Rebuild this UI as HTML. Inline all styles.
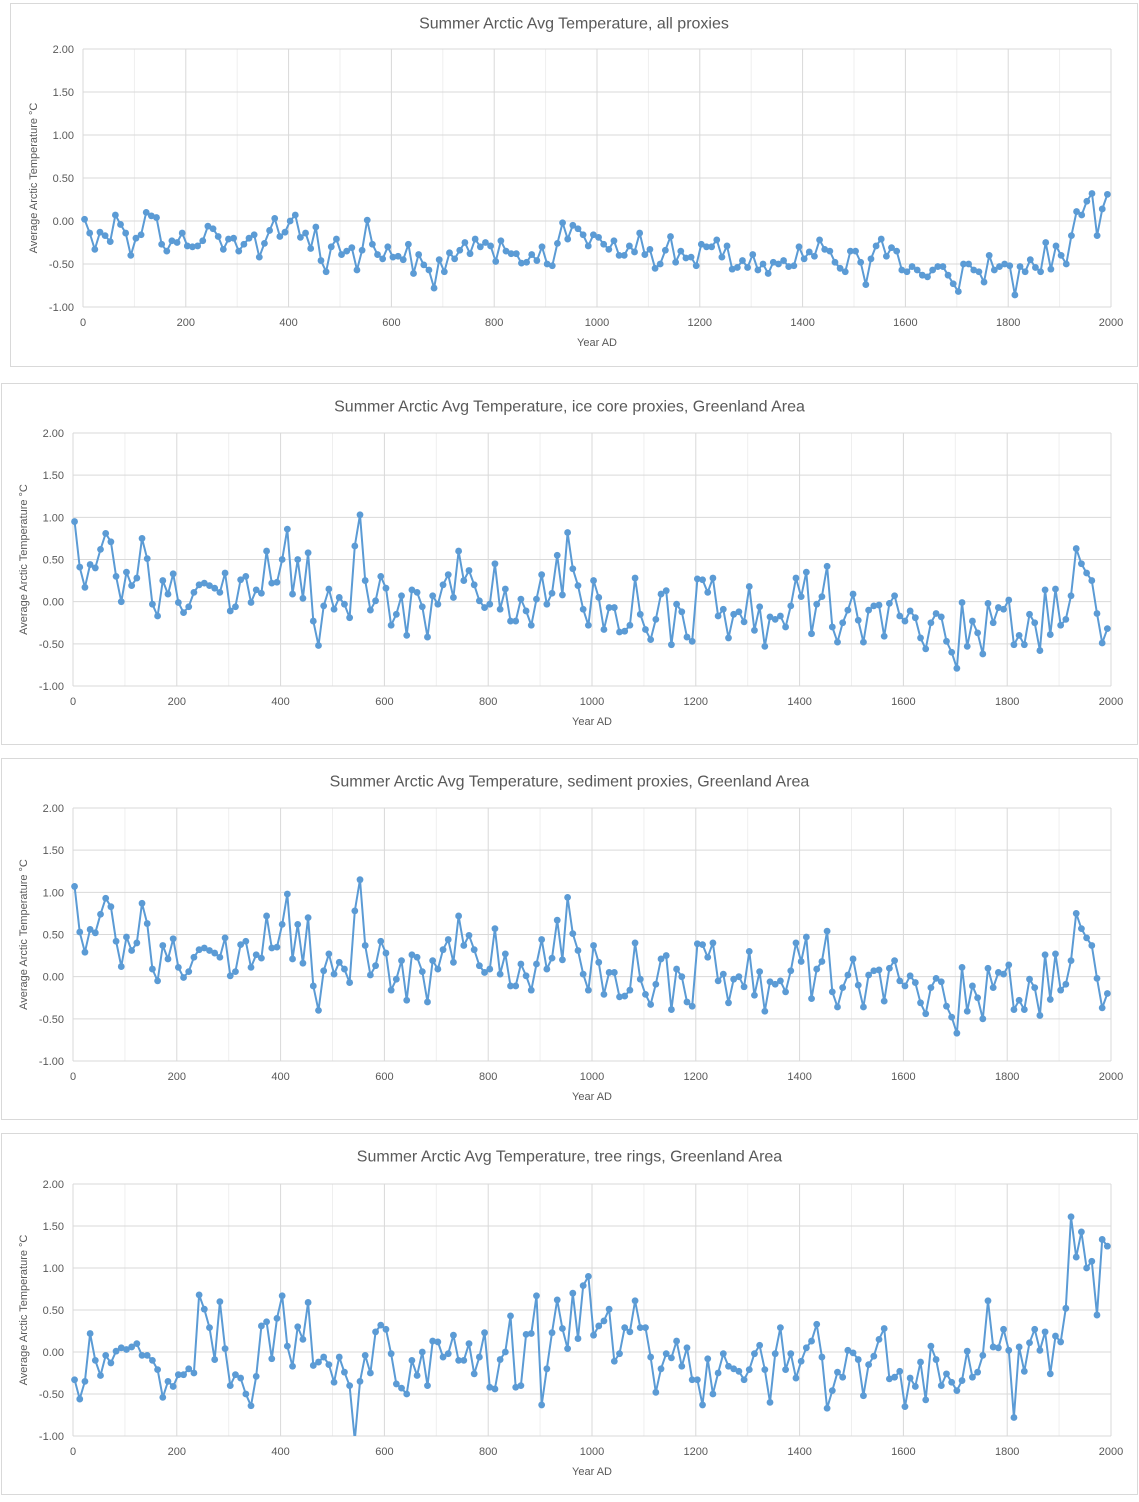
<!DOCTYPE html>
<html><head><meta charset="utf-8"><title>Summer Arctic Avg Temperature</title>
<style>
html,body{margin:0;padding:0;background:#fff;}
svg text{font-family:"Liberation Sans",Arial,sans-serif;fill:#595959;}
</style></head>
<body>
<svg id="root" xmlns="http://www.w3.org/2000/svg" width="1139" height="1497" viewBox="0 0 1139 1497"></svg>
<script>
const yTicks = [2.00, 1.50, 1.00, 0.50, 0.00, -0.50, -1.00];
const xTicks = [0, 200, 400, 600, 800, 1000, 1200, 1400, 1600, 1800, 2000];
const titles = [
  "Summer Arctic Avg Temperature, all proxies",
  "Summer Arctic Avg Temperature, ice core proxies, Greenland Area",
  "Summer Arctic Avg Temperature, sediment proxies, Greenland Area",
  "Summer Arctic Avg Temperature, tree rings, Greenland Area"
];
const allProxies = [0.02,-0.14,-0.33,-0.13,-0.17,-0.24,0.07,-0.04,-0.14,-0.40,-0.20,-0.16,0.10,0.06,0.04,-0.27,-0.35,-0.23,-0.25,-0.14,-0.29,-0.30,-0.29,-0.23,-0.06,-0.09,-0.18,-0.33,-0.21,-0.20,-0.35,-0.27,-0.20,-0.16,-0.42,-0.26,-0.11,0.03,-0.18,-0.13,0.0,0.07,-0.19,-0.14,-0.32,-0.07,-0.46,-0.59,-0.30,-0.21,-0.39,-0.35,-0.31,-0.57,-0.34,0.01,-0.27,-0.39,-0.44,-0.30,-0.42,-0.41,-0.45,-0.27,-0.61,-0.39,-0.51,-0.57,-0.78,-0.45,-0.59,-0.37,-0.44,-0.34,-0.25,-0.38,-0.21,-0.30,-0.25,-0.29,-0.47,-0.23,-0.35,-0.38,-0.38,-0.49,-0.48,-0.39,-0.46,-0.30,-0.50,-0.52,-0.26,-0.02,-0.21,-0.05,-0.09,-0.16,-0.29,-0.16,
-0.19,-0.27,-0.33,-0.23,-0.40,-0.40,-0.29,-0.36,-0.14,-0.39,-0.33,-0.55,-0.50,-0.34,-0.18,-0.48,-0.35,-0.43,-0.42,-0.52,-0.27,-0.30,-0.30,-0.22,-0.42,-0.29,-0.56,-0.54,-0.46,-0.54,-0.39,-0.57,-0.50,-0.61,-0.48,-0.50,-0.46,-0.53,-0.52,-0.30,-0.44,-0.36,-0.41,-0.22,-0.33,-0.35,-0.48,-0.55,-0.59,-0.35,-0.35,-0.48,-0.74,-0.44,-0.29,-0.21,-0.41,-0.31,-0.35,-0.57,-0.59,-0.53,-0.57,-0.63,-0.65,-0.57,-0.53,-0.53,-0.63,-0.73,-0.82,-0.50,-0.50,-0.57,-0.59,-0.71,-0.40,-0.57,-0.53,-0.50,-0.52,-0.86,-0.53,-0.59,-0.45,-0.54,-0.59,-0.25,-0.56,-0.29,-0.40,-0.50,-0.17,0.11,0.07,0.23,0.32,-0.17,0.14,0.31];
const iceCore = [0.95,0.41,0.17,0.44,0.40,0.62,0.81,0.71,0.30,0.00,0.35,0.19,0.28,0.75,0.51,-0.03,-0.17,0.25,0.09,0.33,-0.01,-0.13,-0.06,0.11,0.20,0.22,0.19,0.16,0.11,0.34,-0.11,-0.06,0.26,0.30,-0.01,0.14,0.10,0.60,0.22,0.23,0.50,0.86,0.09,0.50,0.04,0.58,-0.23,-0.52,-0.05,0.15,-0.09,0.05,-0.03,-0.19,0.66,1.03,0.25,-0.10,0.01,0.30,0.16,-0.28,-0.15,0.07,-0.40,0.14,0.11,-0.06,-0.42,0.07,-0.03,0.20,0.32,0.05,0.60,0.25,0.37,0.20,0.01,-0.07,-0.03,0.45,-0.09,0.15,-0.23,-0.23,0.03,-0.11,-0.28,0.03,0.32,-0.03,0.10,0.55,0.08,0.82,0.39,0.19,-0.09,-0.28,
0.25,0.05,-0.33,-0.07,-0.07,-0.36,-0.35,-0.28,0.28,-0.15,-0.33,-0.45,-0.21,0.09,0.13,-0.51,-0.03,-0.12,-0.42,-0.47,0.27,0.26,0.11,0.28,-0.17,-0.09,-0.43,-0.15,-0.12,-0.24,0.18,-0.34,-0.06,-0.53,-0.18,-0.21,-0.17,-0.30,-0.05,0.28,0.06,0.35,-0.38,-0.03,0.06,0.42,-0.30,-0.48,-0.25,-0.10,0.09,-0.22,-0.48,-0.10,-0.05,-0.04,-0.41,-0.02,0.07,-0.17,-0.23,-0.11,-0.19,-0.43,-0.56,-0.25,-0.14,-0.18,-0.47,-0.60,-0.79,-0.01,-0.53,-0.23,-0.37,-0.62,-0.02,-0.25,-0.07,-0.09,0.02,-0.51,-0.40,-0.51,-0.15,-0.25,-0.58,0.14,-0.39,0.15,-0.28,-0.21,0.07,0.63,0.45,0.34,0.25,-0.14,-0.49,-0.32];
const sediment = [1.07,0.53,0.29,0.56,0.52,0.74,0.93,0.83,0.42,0.12,0.47,0.31,0.40,0.87,0.63,0.09,-0.05,0.37,0.21,0.45,0.11,-0.01,0.06,0.23,0.32,0.34,0.31,0.28,0.23,0.46,0.01,0.06,0.38,0.42,0.11,0.26,0.22,0.72,0.34,0.35,0.62,0.98,0.21,0.62,0.16,0.70,-0.11,-0.40,0.07,0.27,0.03,0.17,0.09,-0.07,0.78,1.15,0.37,0.02,0.13,0.42,0.28,-0.16,-0.03,0.19,-0.28,0.26,0.23,0.06,-0.30,0.19,0.09,0.32,0.44,0.17,0.72,0.37,0.49,0.32,0.13,0.05,0.09,0.57,0.03,0.27,-0.11,-0.11,0.15,0.01,-0.16,0.15,0.44,0.09,0.22,0.67,0.20,0.94,0.51,0.31,0.03,-0.16,
0.37,0.17,-0.21,0.05,0.05,-0.24,-0.23,-0.16,0.40,-0.03,-0.21,-0.33,-0.09,0.21,0.25,-0.39,0.09,0.00,-0.30,-0.35,0.39,0.38,0.23,0.40,-0.05,0.03,-0.31,-0.03,0.00,-0.12,0.30,-0.22,0.06,-0.41,-0.06,-0.09,-0.05,-0.18,0.07,0.40,0.18,0.47,-0.26,0.09,0.18,0.54,-0.18,-0.36,-0.13,0.02,0.21,-0.10,-0.36,0.02,0.07,0.08,-0.29,0.10,0.19,-0.05,-0.11,0.01,-0.07,-0.31,-0.44,-0.13,-0.02,-0.06,-0.35,-0.48,-0.67,0.11,-0.41,-0.11,-0.25,-0.50,0.10,-0.13,0.05,0.03,0.14,-0.39,-0.28,-0.39,-0.03,-0.13,-0.46,0.26,-0.27,0.27,-0.16,-0.09,0.19,0.75,0.57,0.46,0.37,-0.02,-0.37,-0.20];
const treeRings = [-0.33,-0.56,-0.35,0.22,-0.10,-0.28,-0.04,-0.13,0.01,0.05,0.03,0.06,0.10,-0.04,-0.04,-0.10,-0.21,-0.54,-0.35,-0.41,-0.27,-0.27,-0.20,-0.25,0.68,0.51,0.29,-0.09,0.60,0.04,-0.40,-0.27,-0.31,-0.50,-0.64,-0.29,0.31,0.36,-0.08,0.40,0.67,0.07,-0.17,0.30,0.15,0.59,-0.16,-0.12,-0.06,-0.15,-0.36,-0.06,-0.24,-0.40,-1.05,-0.35,-0.04,-0.25,0.24,0.32,0.27,-0.02,-0.38,-0.43,-0.50,-0.10,-0.28,0.00,-0.40,0.13,0.12,-0.06,-0.02,0.20,-0.10,-0.10,0.10,-0.26,-0.06,0.23,-0.42,-0.44,-0.09,0.00,0.43,-0.42,-0.40,0.21,0.22,0.67,-0.63,-0.20,0.23,0.62,0.28,0.04,0.70,0.16,0.79,0.90,
0.20,0.31,0.37,0.51,-0.11,-0.02,0.29,0.24,0.61,0.29,0.29,-0.06,-0.48,-0.20,-0.02,-0.07,0.13,-0.17,0.05,-0.33,-0.33,-0.63,-0.08,-0.50,-0.25,-0.02,-0.17,-0.20,-0.23,-0.33,-0.21,-0.02,0.08,-0.21,-0.60,-0.02,0.29,-0.21,-0.02,-0.31,-0.11,0.05,0.13,0.33,-0.06,-0.67,-0.46,-0.24,-0.30,0.02,-0.01,-0.09,-0.52,-0.15,-0.05,0.15,0.28,-0.32,-0.30,-0.23,-0.65,-0.31,-0.41,-0.12,-0.57,0.07,-0.09,-0.40,-0.26,-0.36,-0.46,-0.34,0.01,-0.30,-0.24,-0.04,0.61,0.06,0.05,0.27,0.02,-0.78,0.06,-0.23,0.11,0.27,0.02,0.24,-0.26,0.19,0.12,0.52,1.61,1.13,1.43,1.00,1.08,0.44,1.34,1.26];

const NS = "http://www.w3.org/2000/svg";
const root = document.getElementById('root');
function mk(tag, attrs, parent){
  const e = document.createElementNS(NS, tag);
  for (const k in attrs) e.setAttribute(k, attrs[k]);
  parent.appendChild(e);
  return e;
}
const layouts = [
  {box:[10.5,3.5,1127,363], L:83, R:1111, T:49, B:307, yt:37, ty:25, key:"all-proxies"},
  {box:[1.5,383.5,1136,361], L:73, R:1111, T:433, B:686, yt:27, ty:28, key:"ice-core"},
  {box:[1.5,758.5,1136,361], L:73, R:1111, T:808, B:1061, yt:27, ty:28, key:"sediment"},
  {box:[1.5,1133.5,1136,361], L:73, R:1111, T:1184, B:1436, yt:27, ty:28, key:"tree-rings"}
];
const seriesList = [allProxies, iceCore, sediment, treeRings];

layouts.forEach((lay, ci) => {
  const g = mk('g', {}, root);
  
  
  const box = mk('rect', {x:lay.box[0], y:lay.box[1], width:lay.box[2], height:lay.box[3], fill:'#fff', stroke:'#d9d9d9', 'stroke-width':1}, g);
  
  
  const xS = v => lay.L + (v / 2000) * (lay.R - lay.L);
  const yS = v => lay.T + (2 - v) / 3 * (lay.B - lay.T);
  for (let yr = 100; yr < 2000; yr += 200) {
    const l = mk('line', {x1:xS(yr), x2:xS(yr), y1:lay.T, y2:lay.B, stroke:'#efefef', 'stroke-width':1}, g);
    
    
  }
  xTicks.forEach(t => {
    const l = mk('line', {x1:xS(t), x2:xS(t), y1:lay.T, y2:lay.B, stroke:'#d9d9d9', 'stroke-width':1}, g);
    
    
    const tx = mk('text', {x:xS(t), y:lay.B + 19, 'text-anchor':'middle', 'font-size':11}, g);
    tx.textContent = String(t);
    
    
  });
  yTicks.forEach(t => {
    const l = mk('line', {x1:lay.L, x2:lay.R, y1:yS(t), y2:yS(t), stroke:'#d9d9d9', 'stroke-width':1}, g);
    
    
    const tx = mk('text', {x:lay.L - 9, y:yS(t) + 4, 'text-anchor':'end', 'font-size':11}, g);
    tx.textContent = t.toFixed(2);
    
    
  });
  const title = mk('text', {x:(lay.box[0] + lay.box[0] + lay.box[2]) / 2, y:lay.box[1] + lay.ty, 'text-anchor':'middle', 'font-size':16}, g);
  title.textContent = titles[ci];
  
  
  const xt = mk('text', {x:(lay.L + lay.R) / 2, y:lay.B + 39, 'text-anchor':'middle', 'font-size':11}, g);
  xt.textContent = 'Year AD';
  
  
  const cy = (lay.T + lay.B) / 2;
  const yt = mk('text', {x:lay.yt, y:cy, 'text-anchor':'middle', 'font-size':11, transform:'rotate(-90 ' + lay.yt + ' ' + cy + ')'}, g);
  yt.textContent = 'Average Arctic Temperature \u00B0C';
  
  
  const cid = 'clip' + ci;
  const cp = mk('clipPath', {id:cid}, g);
  mk('rect', {x:lay.L - 5, y:lay.T - 5, width:lay.R - lay.L + 10, height:lay.B - lay.T + 5}, cp);
  const sg = mk('g', {'clip-path':'url(#' + cid + ')'}, g);
  
  
  const data = seriesList[ci];
  const pts = data.map((v, i) => xS(i * 10 + 3).toFixed(1) + ',' + yS(v).toFixed(1)).join(' ');
  const pl = mk('polyline', {points:pts, fill:'none', stroke:'#5b9bd5', 'stroke-width':2, 'stroke-linejoin':'round'}, sg);
  
  
  data.forEach((v, i) => {
    const c = mk('circle', {cx:xS(i * 10 + 3), cy:yS(v), r:3.4, fill:'#5b9bd5'}, sg);
    
    
  });
});
</script>
</body></html>
